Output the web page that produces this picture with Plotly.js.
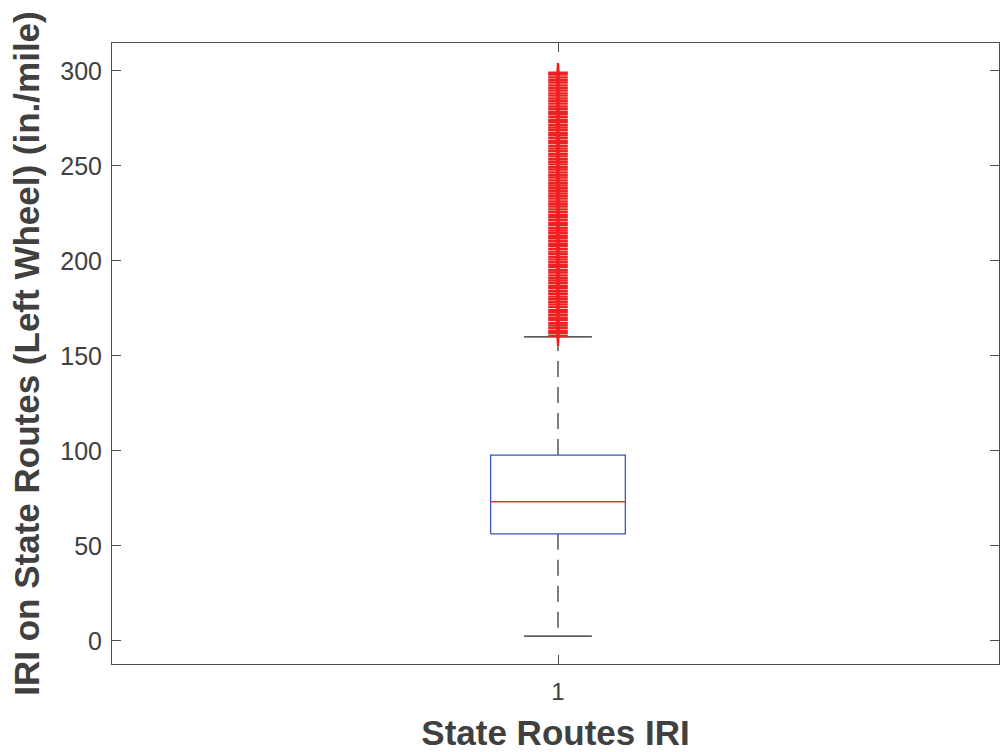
<!DOCTYPE html>
<html>
<head>
<meta charset="utf-8">
<script src="https://cdn.plot.ly/plotly-3.0.1.min.js"></script>
<style>html,body{margin:0;padding:0;background:#fff;}#chart{width:1000px;height:752px;}</style>
</head>
<body>
<div id="chart"></div>
<script>
// ---- data ----
const categories = ['1'];
const positions = [1];
const q1 = [56.3];
const medians = [73.2];
const q3 = [97.8];
const lowerWhisker = [2.5];
const upperWhisker = [160.0];
const outliers = [160.4,161.9,163.1,164.6,166.0,167.2,168.9,170.1,171.5,173.0,174.2,175.8,177.1,178.5,179.9,
  181.2,182.7,184.0,185.6,186.8,188.3,189.7,191.0,192.4,193.9,195.1,196.7,198.0,199.4,200.8,202.1,203.6,
  204.9,206.3,207.8,209.0,210.5,211.9,213.2,214.7,216.0,217.4,218.9,220.1,221.6,223.0,224.3,225.8,227.1,
  228.6,229.9,231.3,232.8,234.0,235.5,236.9,238.2,239.7,241.0,242.4,243.9,245.2,246.6,248.1,249.3,250.8,
  252.2,253.5,255.0,256.3,257.8,259.1,260.5,262.0,263.2,264.7,266.1,267.4,268.9,270.2,271.6,273.1,274.3,
  275.8,277.2,278.5,280.0,281.3,282.8,284.1,285.5,287.0,288.2,289.7,291.1,292.4,293.9,295.2,296.6,298.1,299.0];
const yTickVals = [0,50,100,150,200,250,300];
const yTickText = ['0','50','100','150','200','250','300'];

// ---- style ----
const boxHalf = 0.0755;
const capHalf = 0.038;
const axisColor = '#4d4d4d';
const textColor = '#404040';
const font = 'Liberation Sans, Arial, Helvetica, sans-serif';

const traces = [];
positions.forEach((p, i) => {
  traces.push({x:[p,p], y:[q3[i], upperWhisker[i]], mode:'lines', line:{color:'#3a3a3a', width:1.3, dash:'16px,10px'}, hoverinfo:'skip', showlegend:false});
  traces.push({x:[p,p], y:[q1[i], lowerWhisker[i]], mode:'lines', line:{color:'#3a3a3a', width:1.3, dash:'16px,10px'}, hoverinfo:'skip', showlegend:false});
  traces.push({x:[p-capHalf,p+capHalf], y:[upperWhisker[i],upperWhisker[i]], mode:'lines', line:{color:'#222', width:1.3}, hoverinfo:'skip', showlegend:false});
  traces.push({x:[p-capHalf,p+capHalf], y:[lowerWhisker[i],lowerWhisker[i]], mode:'lines', line:{color:'#222', width:1.3}, hoverinfo:'skip', showlegend:false});
  traces.push({x:[p-boxHalf,p+boxHalf,p+boxHalf,p-boxHalf,p-boxHalf], y:[q1[i],q1[i],q3[i],q3[i],q1[i]], mode:'lines', line:{color:'#3a56b0', width:1.3}, hoverinfo:'skip', showlegend:false});
  traces.push({x:[p-boxHalf,p+boxHalf], y:[medians[i],medians[i]], mode:'lines', line:{color:'#ff2a2a', width:1.3}, hoverinfo:'skip', showlegend:false});
  traces.push({x:outliers.map(()=>p), y:outliers, mode:'markers', marker:{symbol:'cross-thin-open', size:14, color:'#ee2020', line:{color:'#ee2020', width:2.4}}, showlegend:false});
});

const layout = {
  width:1000, height:752,
  margin:{l:112, r:1, t:43, b:88},
  paper_bgcolor:'#fff', plot_bgcolor:'#fff',
  showlegend:false,
  font:{family:font, color:textColor},
  xaxis:{
    range:[0.5,1.4944], tickvals:positions, ticktext:categories,
    showline:true, linecolor:axisColor, linewidth:1, mirror:'allticks',
    ticks:'inside', ticklen:9, tickcolor:axisColor, tickwidth:1,
    showgrid:false, zeroline:false, ticklabelstandoff:6,
    tickfont:{size:24, color:textColor, family:font},
    title:{text:'<b>State Routes IRI</b>', font:{size:35, color:textColor, family:font}, standoff:20}
  },
  yaxis:{
    range:[-12.2, 314.7], tickvals:yTickVals, ticktext:yTickText,
    showline:true, linecolor:axisColor, linewidth:1, mirror:'allticks',
    ticks:'inside', ticklen:9, tickcolor:axisColor, tickwidth:1,
    showgrid:false, zeroline:false, ticklabelstandoff:4,
    tickfont:{size:25, color:textColor, family:font},
    title:{text:'<b>IRI on State Routes (Left Wheel) (in./mile)</b>', font:{size:35, color:textColor, family:font}, standoff:10}
  }
};

Plotly.newPlot('chart', traces, layout, {displayModeBar:false, staticPlot:true});
</script>
</body>
</html>
